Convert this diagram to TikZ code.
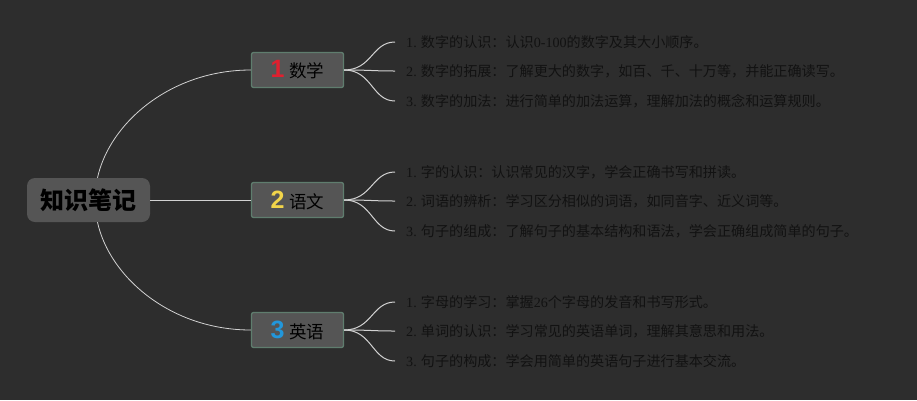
\documentclass[tikz,border=0pt]{standalone}
\usepackage{fontspec}
\setmainfont{Liberation Serif}
\newfontfamily\cjk{Noto Sans CJK SC}
\newfontfamily\numfont{Liberation Sans}
\usetikzlibrary{positioning}
\definecolor{bgcol}{HTML}{2D2D2D}
\definecolor{boxcol}{HTML}{555555}
\definecolor{edgecol}{HTML}{5F7D6E}
\definecolor{linecol}{HTML}{D2D2D2}
\definecolor{leafcol}{HTML}{121212}
\definecolor{onecol}{HTML}{E0202F}
\definecolor{twocol}{HTML}{F2D54A}
\definecolor{threecol}{HTML}{2297DB}
\newcommand{\rn}[1]{{\rmfamily #1}}
\newcommand{\num}[2]{{\numfont\bfseries\fontsize{25}{25}\selectfont\color{#1}#2}\hspace{5pt}}

\begin{document}
\begin{tikzpicture}[x=1pt,y=-1pt,
  root/.style={fill=boxcol,rounded corners=8pt,minimum width=123pt,minimum height=44pt,font=\cjk\bfseries\fontsize{24}{26}\selectfont},
  topic/.style={fill=boxcol,draw=edgecol,line width=1.3pt,rounded corners=2pt,minimum width=92pt,minimum height=35pt,font=\cjk\fontsize{17.5}{20}\selectfont},
  leaf/.style={anchor=west,inner xsep=6pt,text=leafcol,font=\cjk\fontsize{14.1}{16}\selectfont},
  link/.style={draw=linecol,line width=0.8pt},
  sub/.style={draw=linecol,line width=1pt,shorten >=5pt}]
\fill[bgcol] (0,0) rectangle (917,400);
\useasboundingbox (0,0) rectangle (917,400);
% main nodes
\node[root] (r) at (88.5,200) {知识笔记};
\node[topic] (b1) at (297.5,70) {\num{onecol}{1}数学};
\node[topic] (b2) at (297.5,200) {\num{twocol}{2}语文};
\node[topic] (b3) at (297.5,330) {\num{threecol}{3}英语};
% leaves
\node[leaf] (l11) at (400,42) {\rn{1.} 数字的认识：认识\rn{0-100}的数字及其大小顺序。};
\node[leaf] (l12) at (400,71) {\rn{2.} 数字的拓展：了解更大的数字，如百、千、十万等，并能正确读写。};
\node[leaf] (l13) at (400,101) {\rn{3.} 数字的加法：进行简单的加法运算，理解加法的概念和运算规则。};
\node[leaf] (l21) at (400,172) {\rn{1.} 字的认识：认识常见的汉字，学会正确书写和拼读。};
\node[leaf] (l22) at (400,201) {\rn{2.} 词语的辨析：学习区分相似的词语，如同音字、近义词等。};
\node[leaf] (l23) at (400,231) {\rn{3.} 句子的组成：了解句子的基本结构和语法，学会正确组成简单的句子。};
\node[leaf] (l31) at (400,302) {\rn{1.} 字母的学习：掌握\rn{26}个字母的发音和书写形式。};
\node[leaf] (l32) at (400,331) {\rn{2.} 单词的认识：学习常见的英语单词，理解其意思和用法。};
\node[leaf] (l33) at (400,361) {\rn{3.} 句子的构成：学会用简单的英语句子进行基本交流。};
% connectors
\draw[link] ([xshift=9pt]r.north) .. controls +(12,-55) and +(-80,0) .. (b1.west);
\draw[link] (r.east) -- (b2.west);
\draw[link] ([xshift=9pt]r.south) .. controls +(12,55) and +(-80,0) .. (b3.west);
\foreach \b in {1,2,3} {
  \foreach \l in {1,2,3} {
    \draw[sub] (b\b.east) .. controls +(28,0) and +(-28,0) .. (l\b\l.west);
  }
}
\end{tikzpicture}
\end{document}
